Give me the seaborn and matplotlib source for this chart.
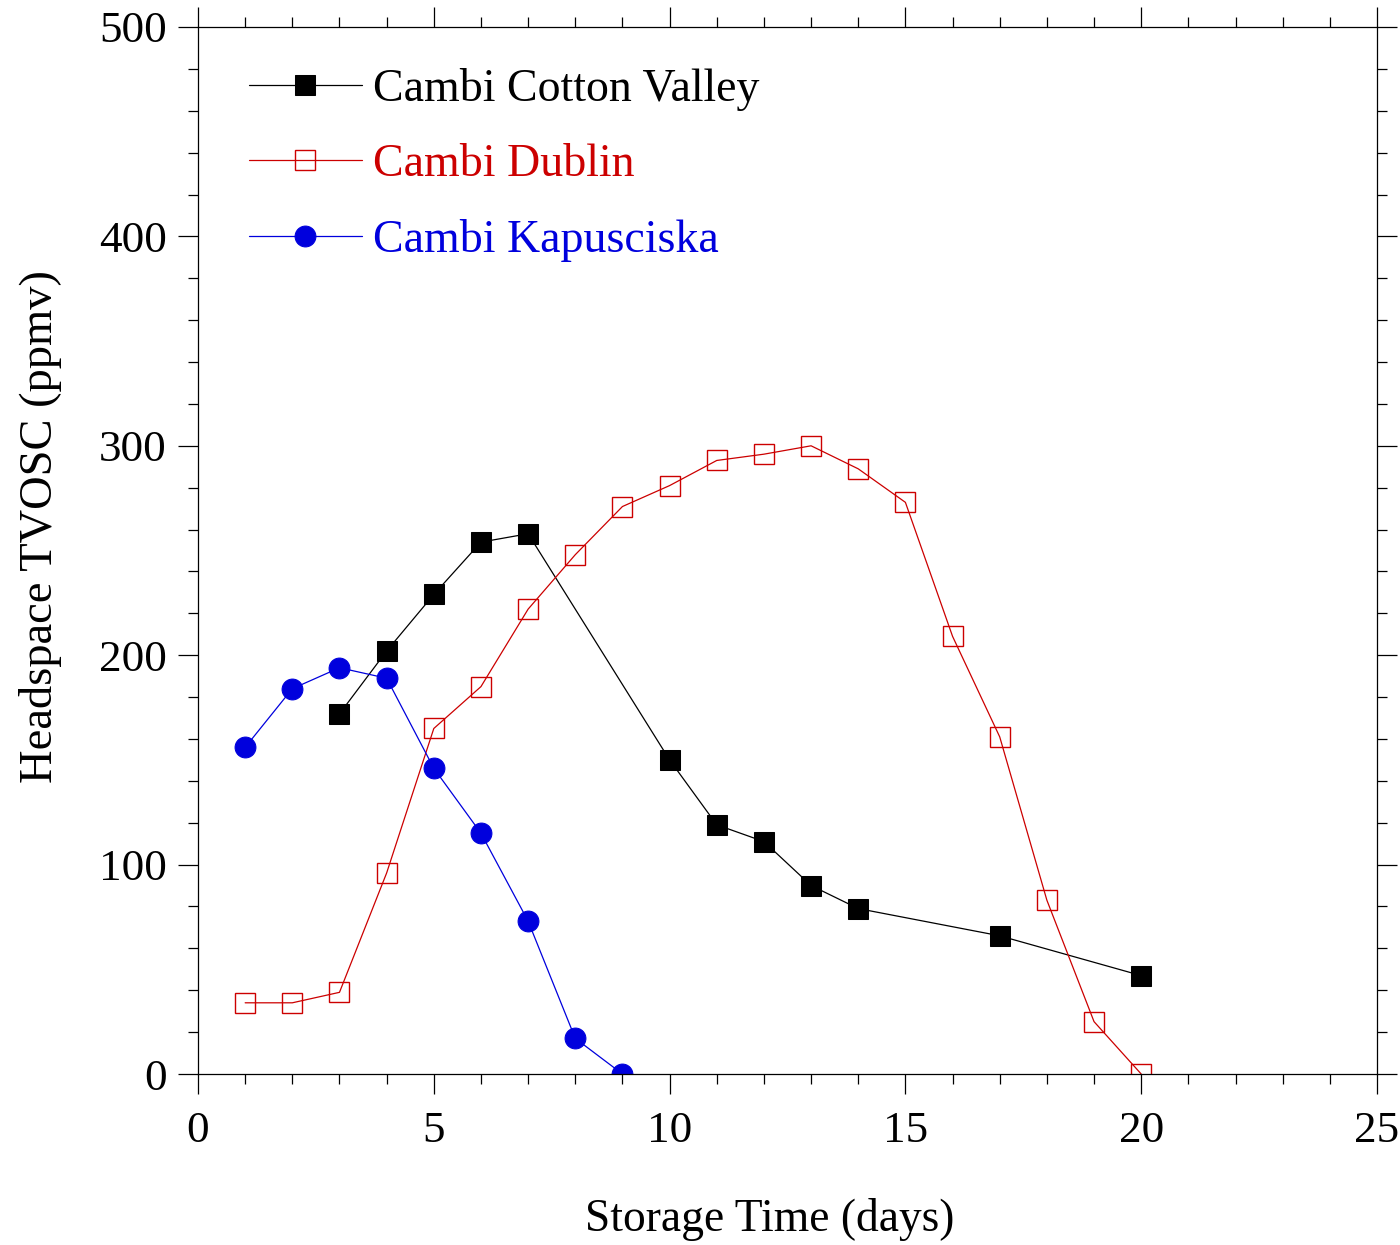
import numpy as np
import pandas as pd
import matplotlib
matplotlib.use("Agg")
import matplotlib.pyplot as plt
import seaborn as sns
from matplotlib.ticker import MultipleLocator

sns.set_theme(style="white")
plt.rcParams['font.family'] = ['Liberation Serif', 'DejaVu Serif']
plt.rcParams['text.color'] = 'black'
plt.rcParams['axes.labelcolor'] = 'black'
plt.rcParams['xtick.color'] = 'black'
plt.rcParams['ytick.color'] = 'black'

cv_days = [3, 4, 5, 6, 7, 10, 11, 12, 13, 14, 17, 20]
cv_vals = [172, 202, 229, 254, 258, 150, 119, 111, 90, 79, 66, 47]

du_days = [1, 2, 3, 4, 5, 6, 7, 8, 9, 10, 11, 12, 13, 14, 15, 16, 17, 18, 19, 20]
du_vals = [34, 34, 39, 96, 165, 185, 222, 248, 271, 281, 293, 296, 300, 289, 273, 209, 161, 83, 25, 0]

ka_days = [1, 2, 3, 4, 5, 6, 7, 8, 9]
ka_vals = [156, 184, 194, 189, 146, 115, 73, 17, 0]

labels = ["Cambi Cotton Valley", "Cambi Dublin", "Cambi Kapusciska"]
colors = ["#000000", "#CC0000", "#0000DD"]

fig = plt.figure(figsize=(14, 12.45), dpi=100)
ax = fig.add_axes([198/1400, 1 - 1074/1245, (1377-198)/1400, (1074-27)/1245])

ms = 15
sns.lineplot(x=cv_days, y=cv_vals, ax=ax, color=colors[0], lw=0.9, marker='s',
             markersize=ms, markerfacecolor=colors[0], markeredgecolor=colors[0],
             label=labels[0])
sns.lineplot(x=du_days, y=du_vals, ax=ax, color=colors[1], lw=0.9, marker='s',
             markersize=ms, markerfacecolor='none', markeredgecolor=colors[1],
             markeredgewidth=1.0, label=labels[1])
sns.lineplot(x=ka_days, y=ka_vals, ax=ax, color=colors[2], lw=0.9, marker='o',
             markersize=ms, markerfacecolor=colors[2], markeredgecolor=colors[2],
             label=labels[2])

ax.set_xlim(0, 25)
ax.set_ylim(0, 500)
ax.xaxis.set_major_locator(MultipleLocator(5))
ax.xaxis.set_minor_locator(MultipleLocator(1))
ax.yaxis.set_major_locator(MultipleLocator(100))
ax.yaxis.set_minor_locator(MultipleLocator(20))
ax.tick_params(which='both', direction='out', top=True, right=True,
               bottom=True, left=True, color='black', width=0.9,
               labeltop=False, labelright=False, labelcolor='black')
ax.tick_params(which='major', length=14.4, labelsize=32.5)
ax.tick_params(axis='y', which='major', pad=8)
ax.tick_params(axis='x', which='major', pad=12)
ax.tick_params(which='minor', length=7.2)
for s in ax.spines.values():
    s.set_visible(True)
    s.set_color('black')
    s.set_linewidth(0.9)

ax.set_xlabel("Storage Time (days)", fontsize=32.8, labelpad=34, color='black',
              x=(770 - 198) / 1179)
ax.set_ylabel("Headspace TVOSC (ppmv)", fontsize=33.5, labelpad=27, color='black',
              y=(1074 - 527) / 1047)

leg = ax.legend(loc='upper left', bbox_to_anchor=(0.028, 0.978), frameon=False,
                fontsize=33, handlelength=2.45, handletextpad=0.25,
                labelspacing=0.71, labelcolor='linecolor', borderaxespad=0)

fig.savefig("out.png", dpi=100)
